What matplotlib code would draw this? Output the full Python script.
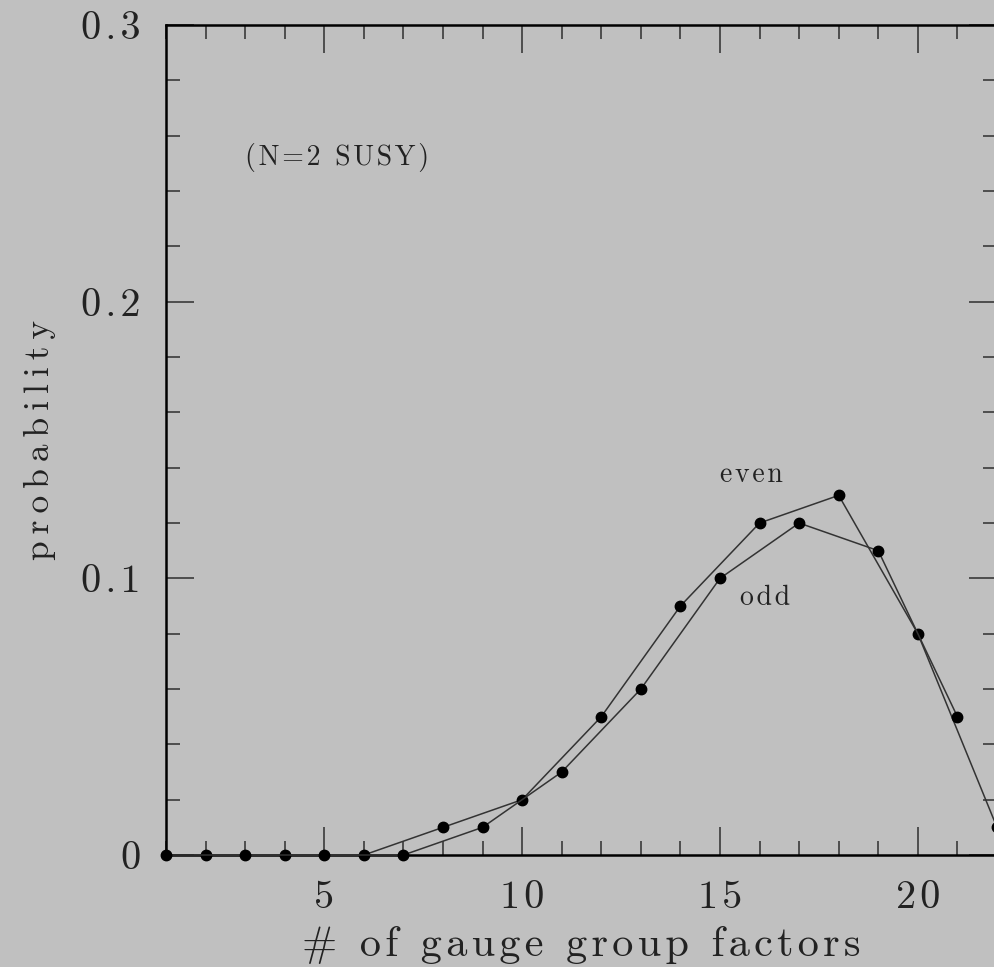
import matplotlib.pyplot as plt
from matplotlib.ticker import MultipleLocator

# probability vs number of gauge group factors, split by parity
even_x = [2, 4, 6, 8, 10, 12, 14, 16, 18, 20, 22]
even_p = [0, 0, 0, 0.01, 0.02, 0.05, 0.09, 0.12, 0.13, 0.08, 0.01]
odd_x = [1, 3, 5, 7, 9, 11, 13, 15, 17, 19, 21]
odd_p = [0, 0, 0, 0, 0.01, 0.03, 0.06, 0.10, 0.12, 0.11, 0.05]

bg = '#c0c0c0'
plt.rcParams['font.family'] = ['cmr10', 'DejaVu Sans']
plt.rcParams['axes.formatter.use_mathtext'] = True

HAIR = '\u200a'


def spaced(s, n=1):
    # wide letter spacing, plotter style
    return (HAIR * n).join(s)


fig = plt.figure(figsize=(9.95, 9.67), dpi=100, facecolor=bg)
ax = fig.add_axes([0.1668, 0.1158, 0.8352, 0.8583], facecolor=bg)

line_kw = dict(color='#333333', lw=1.1, marker='o', ms=7.5,
               mfc='black', mec='black', clip_on=False, zorder=3)
ax.plot(even_x, even_p, **line_kw)
ax.plot(odd_x, odd_p, **line_kw)

ax.set_xlim(1, 22)
ax.set_ylim(0, 0.3)

ax.xaxis.set_major_locator(MultipleLocator(5))
ax.xaxis.set_minor_locator(MultipleLocator(1))
ax.yaxis.set_major_locator(MultipleLocator(0.1))
ax.yaxis.set_minor_locator(MultipleLocator(0.02))
ax.xaxis.set_major_formatter(lambda v, pos: spaced(f'{v:g}'))
ax.yaxis.set_major_formatter(lambda v, pos: '0' if v == 0 else spaced(f'{v:.1f}'))

ax.tick_params(which='both', direction='in', top=True, right=True,
               color='#444444', width=1.3, labelsize=29, labelcolor='#222222')
ax.tick_params(axis='x', pad=18)
ax.tick_params(axis='y', pad=18)
ax.tick_params(which='major', length=20)
ax.tick_params(which='minor', length=10)
for s in ax.spines.values():
    s.set_linewidth(1.8)

ax.set_xlabel(spaced('# of gauge group factors'), fontsize=30.5, labelpad=7, color='#222222')
ax.set_ylabel(spaced('probability', 2), fontsize=25.5, labelpad=18, color='#222222')

ax.text(5.33, 0.252, spaced('(N=2 SUSY)'), fontsize=20, ha='center', va='center', color='#222222')
ax.text(15.79, 0.1375, spaced('even'), fontsize=20, ha='center', va='center', color='#222222')
ax.text(16.15, 0.0928, spaced('odd'), fontsize=20, ha='center', va='center', color='#222222')

fig.savefig('out.png', dpi=100, facecolor=bg)
